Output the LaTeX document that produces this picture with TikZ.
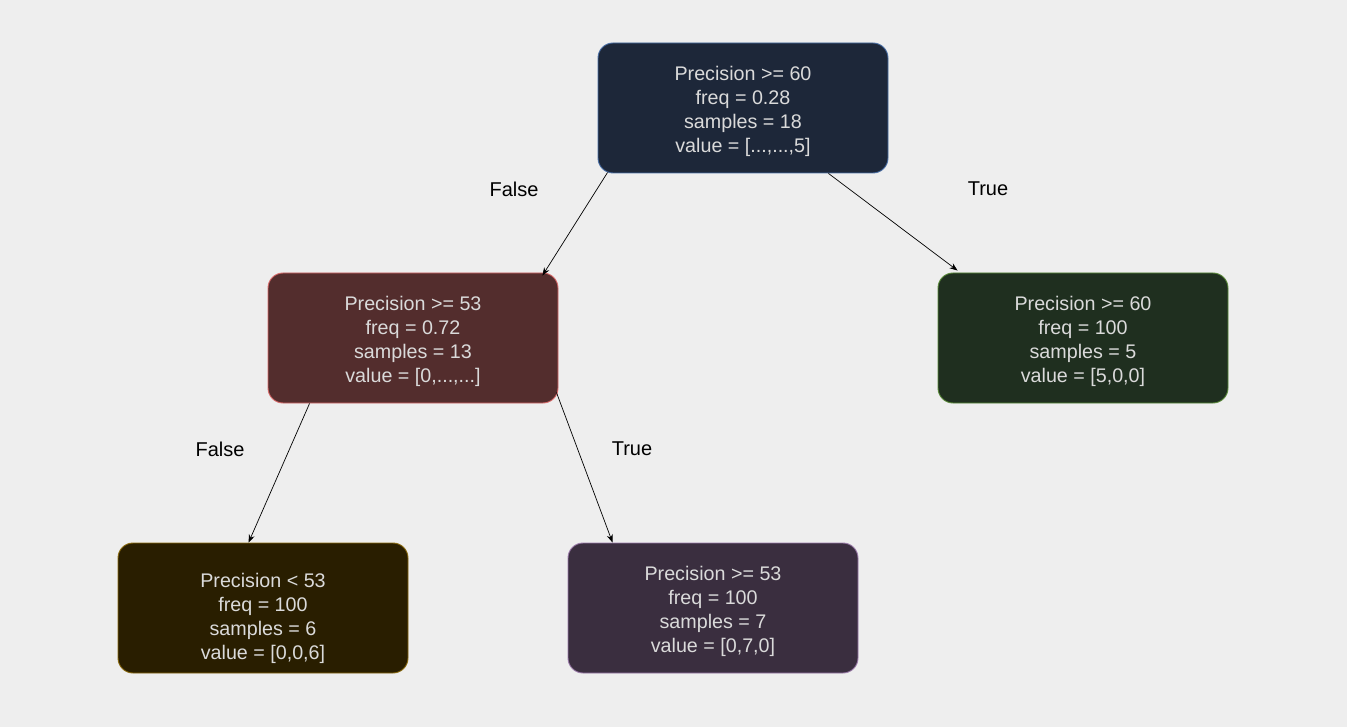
\documentclass[tikz,border=0pt]{standalone}
\usepackage{fontspec}
\setmainfont{Liberation Sans}
\usetikzlibrary{arrows.meta}
\definecolor{bg}{HTML}{EEEEEE}
\definecolor{txt}{HTML}{DADADA}
\definecolor{rootfill}{HTML}{1D2739}
\definecolor{rootline}{HTML}{4A6FA5}
\definecolor{redfill}{HTML}{532D2D}
\definecolor{redline}{HTML}{D86A6A}
\definecolor{greenfill}{HTML}{1F2F1F}
\definecolor{greenline}{HTML}{5A8A3A}
\definecolor{brownfill}{HTML}{291E00}
\definecolor{brownline}{HTML}{8A6A10}
\definecolor{purplefill}{HTML}{3A2E3F}
\definecolor{purpleline}{HTML}{9A7AA8}
\tikzset{
  treebox/.style={rounded corners=15pt, minimum width=290pt, minimum height=130pt,
    inner sep=0pt, line width=0.9pt},
  boxtext/.style={inner sep=0pt, align=center, text=txt,
    font=\fontsize{19.7}{24}\selectfont},
  edgelabel/.style={text=black, font=\fontsize{20}{24}\selectfont, inner sep=0pt},
  conn/.style={draw=black, line width=0.7pt, -{Stealth[length=8pt,width=6pt]}}
}
\begin{document}
\begin{tikzpicture}[x=1pt,y=-1pt]
\fill[bg] (0,0) rectangle (1347,727);
\useasboundingbox (0,0) rectangle (1347,727);
\node[treebox, fill=rootfill, draw=rootline] (root) at (743,108) {};
\node[treebox, fill=redfill, draw=redline] (lm) at (413,338) {};
\node[treebox, fill=greenfill, draw=greenline] (rm) at (1083,338) {};
\node[treebox, fill=brownfill, draw=brownline] (bl) at (263,608) {};
\node[treebox, fill=purplefill, draw=purpleline] (bm) at (713,608) {};
\node[boxtext] (rootT) at (743,111) {Precision >= 60\\freq = 0.28\\samples = 18\\value = [...,...,5]};
\node[boxtext] (lmT) at (413,341) {Precision >= 53\\freq = 0.72\\samples = 13\\value = [0,...,...]};
\node[boxtext] (rmT) at (1083,341) {Precision >= 60\\freq = 100\\samples = 5\\value = [5,0,0]};
\node[boxtext] (blT) at (263,618) {Precision < 53\\freq = 100\\samples = 6\\value = [0,0,6]};
\node[boxtext] (bmT) at (713,611) {Precision >= 53\\freq = 100\\samples = 7\\value = [0,7,0]};
\draw[conn] ([xshift=10pt,yshift=1pt]root.south west) -- ([xshift=-16pt,yshift=-3pt]lm.north east);
\draw[conn] ([xshift=-60pt,yshift=0pt]root.south east) -- ([xshift=20pt,yshift=2pt]rm.north west);
\draw[conn] ([xshift=42pt]lm.south west) -- ([xshift=131pt]bl.north west);
\draw[conn] ([xshift=-2pt,yshift=11pt]lm.south east) -- ([xshift=45pt]bm.north west);
\node[edgelabel] (f1) at (514,189) {False};
\node[edgelabel] (t1) at (988,189) {True};
\node[edgelabel] (f2) at (220,449) {False};
\node[edgelabel] (t2) at (632,449) {True};
\end{tikzpicture}
\end{document}
